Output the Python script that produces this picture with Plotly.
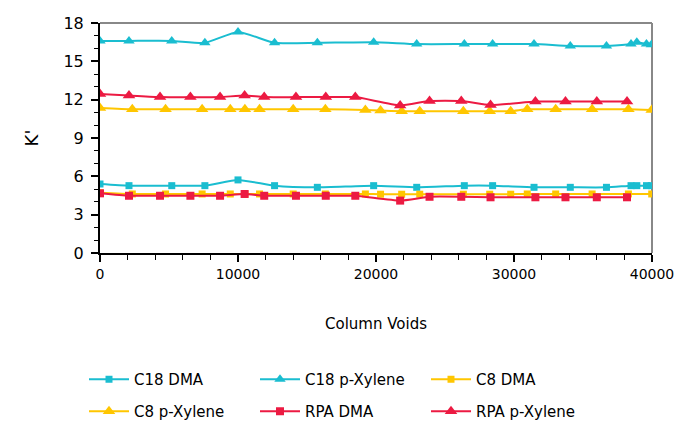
import plotly.graph_objects as go

# ---- data ----
c18_x = [0, 2100, 5200, 7600, 10000, 12650, 15750, 19830, 22950, 26400, 28450, 31450, 34080, 36700, 38480, 38900, 39600, 39950]
c18_dma = [5.4, 5.27, 5.27, 5.27, 5.72, 5.27, 5.14, 5.27, 5.14, 5.27, 5.27, 5.14, 5.14, 5.14, 5.27, 5.27, 5.27, 5.27]
c18_pxy = [16.6, 16.6, 16.6, 16.45, 17.3, 16.45, 16.45, 16.5, 16.35, 16.35, 16.35, 16.35, 16.2, 16.2, 16.35, 16.5, 16.35, 16.3]

c8_x = [0, 2340, 4750, 7400, 9440, 10500, 11560, 14000, 16330, 19230, 20330, 21860, 23170, 26330, 28240, 29760, 30960, 33020, 35660, 38290, 39980]
c8_dma = [4.72, 4.62, 4.62, 4.62, 4.62, 4.62, 4.62, 4.62, 4.62, 4.62, 4.6, 4.6, 4.6, 4.6, 4.6, 4.6, 4.62, 4.62, 4.62, 4.62, 4.62]
c8_pxy = [11.35, 11.25, 11.25, 11.25, 11.25, 11.25, 11.25, 11.25, 11.25, 11.2, 11.15, 11.1, 11.1, 11.1, 11.1, 11.1, 11.25, 11.25, 11.25, 11.25, 11.2]

rpa_x = [0, 2100, 4350, 6550, 8700, 10480, 11900, 14200, 16360, 18500, 21750, 23880, 26180, 28300, 31550, 33730, 36000, 38190]
rpa_dma = [4.67, 4.48, 4.48, 4.48, 4.48, 4.62, 4.48, 4.48, 4.48, 4.48, 4.1, 4.4, 4.4, 4.36, 4.36, 4.36, 4.36, 4.36]
rpa_pxy = [12.44, 12.33, 12.2, 12.2, 12.2, 12.33, 12.2, 12.2, 12.2, 12.2, 11.55, 11.9, 11.9, 11.58, 11.85, 11.85, 11.85, 11.85]

x_ticks = [0, 10000, 20000, 30000, 40000]

CYAN = "#1ABDD0"
YELLOW = "#FFC600"
RED = "#EC1A42"

series = [
    ("C18 DMA", c18_x, c18_dma, CYAN, "square", 7, "legend"),
    ("C18 p-Xylene", c18_x, c18_pxy, CYAN, "triangle-up", 10, "legend"),
    ("C8 DMA", c8_x, c8_dma, YELLOW, "square", 7, "legend"),
    ("C8 p-Xylene", c8_x, c8_pxy, YELLOW, "triangle-up", 11, "legend2"),
    ("RPA DMA", rpa_x, rpa_dma, RED, "square", 8, "legend2"),
    ("RPA p-Xylene", rpa_x, rpa_pxy, RED, "triangle-up", 11, "legend2"),
]

fig = go.Figure()
for name, xs, ys, col, sym, sz, lg in series:
    fig.add_trace(go.Scatter(
        x=xs, y=ys, name=name, mode="lines+markers", legend=lg,
        line=dict(color=col, width=2, shape="spline", smoothing=0.5),
        marker=dict(color=col, symbol=sym, size=sz),
    ))

FONT = "DejaVu Sans, Verdana, sans-serif"
W, H = 675, 421

leg_common = dict(
    orientation="h", xref="container", yref="container",
    xanchor="left", yanchor="top",
    entrywidth=116, entrywidthmode="pixels",
    font=dict(family=FONT, size=15), itemwidth=40,
    bgcolor="rgba(0,0,0,0)",
)

fig.update_layout(
    width=W, height=H,
    margin=dict(l=100, r=23, t=23, b=168, autoexpand=False),
    paper_bgcolor="white", plot_bgcolor="white",
    font=dict(family=FONT, size=15, color="black"),
    showlegend=True,
    legend=dict(leg_common, x=84 / W, y=1 - 363 / H),
    legend2=dict(leg_common, x=84 / W, y=1 - 395 / H),
    xaxis=dict(
        range=[0, 40000], tickvals=x_ticks, ticktext=[str(v) for v in x_ticks],
        automargin=False, ticklabeloverflow="allow",
        showgrid=False, zeroline=False,
        showline=True, linecolor="black", linewidth=2,
        ticks="outside", ticklen=7, tickwidth=1.5, tickcolor="black",
        minor=dict(dtick=2000, ticks="outside", ticklen=5, tickwidth=1.2, tickcolor="black"),
        title=dict(text="Column Voids", font=dict(family=FONT, size=15), standoff=38),
        tickfont=dict(family=FONT, size=14),
    ),
    yaxis=dict(
        range=[0, 18], dtick=3, automargin=False,
        showgrid=False, zeroline=False,
        showline=True, linecolor="black", linewidth=2,
        ticks="outside", ticklen=7, tickwidth=1.5, tickcolor="black",
        ticklabelstandoff=4,
        minor=dict(dtick=1, ticks="outside", ticklen=4, tickwidth=1.2, tickcolor="black"),
        title=dict(text="K'", font=dict(family=FONT, size=18), standoff=20),
        tickfont=dict(family=FONT, size=16),
    ),
    shapes=[
        dict(type="line", xref="paper", yref="paper", x0=0, x1=1, y0=1, y1=1,
             line=dict(color="#888888", width=2), layer="below"),
        dict(type="line", xref="paper", yref="paper", x0=1, x1=1, y0=0, y1=1,
             line=dict(color="#888888", width=2), layer="below"),
    ],
)

fig.write_html(
    "out.html",
    config={"displayModeBar": False},
    post_script="document.body.style.margin='0';document.documentElement.style.overflow='hidden';",
)
